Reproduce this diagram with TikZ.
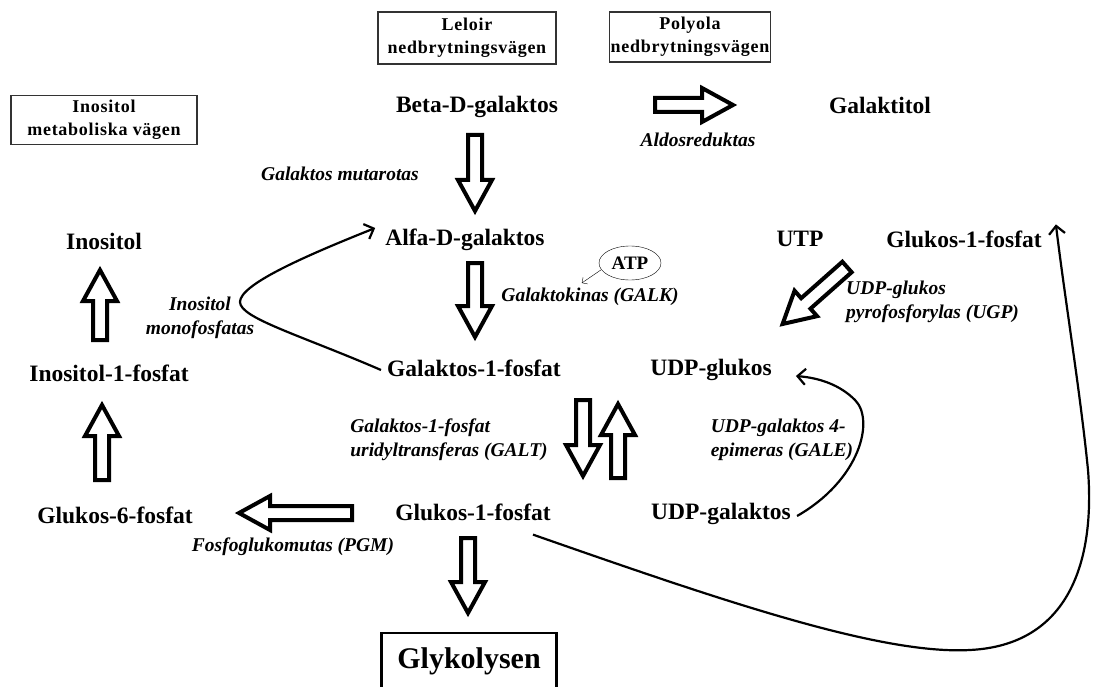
\documentclass[tikz,border=0pt]{standalone}
\usepackage{fontspec}
\setmainfont{Liberation Serif}
\usetikzlibrary{arrows.meta,shapes.geometric}
\tikzset{
  met/.style={font=\bfseries\fontsize{23.5}{26}\selectfont, inner sep=2pt},
  enz/.style={font=\bfseries\itshape\fontsize{19.5}{24}\selectfont, align=center, inner sep=1pt},
  pathbox/.style={draw, line width=1.3pt, draw=black!80, align=center, inner sep=1pt,
    font=\bfseries\fontsize{18}{23}\selectfont\addfontfeature{LetterSpace=4}},
  fatline/.style={line width=4pt, line join=miter, fill=white},
  pics/fat/.style={code={
    \draw[fatline] (0,-7) -- ({#1-35},-7) -- ({#1-35},-17) -- ({#1-4},0)
      -- ({#1-35},17) -- ({#1-35},7) -- (0,7) -- cycle;}},
  curve/.style={line width=2.2pt, -{Straight Barb[length=8pt,width=16pt]}},
}
\begin{document}
\begin{tikzpicture}[x=1pt,y=-1pt]
\useasboundingbox (0,0) rectangle (1094,687);

% boxes for the three pathways
\node[pathbox, minimum width=186, minimum height=49] (boxino) at (104,120) {Inositol\\metaboliska vägen};
\node[pathbox, minimum width=178, minimum height=52] (boxlel) at (467,38) {Leloir\\nedbrytningsvägen};
\node[pathbox, minimum width=160, minimum height=50] (boxpol) at (690,37) {Polyola\\nedbrytningsvägen};

% metabolites
\node[met] (beta) at (477,107) {Beta-D-galaktos};
\node[met] (galtitol) at (880,105) {Galaktitol};
\node[met] (alfa) at (465,240) {Alfa-D-galaktos};
\node[met] (gal1p) at (474,368) {Galaktos-1-fosfat};
\node[met] (ino) at (104,241) {Inositol};
\node[met] (ino1p) at (109,373) {Inositol-1-fosfat};
\node[met] (glc6p) at (115,515) {Glukos-6-fosfat};
\node[met] (utp) at (800,239) {UTP};
\node[met] (glc1ptop) at (964,239) {Glukos-1-fosfat};
\node[met] (udpglc) at (711,370) {UDP-glukos};
\node[met] (glc1p) at (473,512) {Glukos-1-fosfat};
\node[met] (udpgal) at (721,514) {UDP-galaktos};
\node[draw, line width=2.6pt, font=\bfseries\fontsize{30}{32}\selectfont,
  minimum width=175, minimum height=56] (glyk) at (469,661) {Glykolysen};
\node[draw, thin, ellipse, font=\bfseries\fontsize{19}{20}\selectfont,
  minimum width=62, minimum height=34, inner sep=0pt] (atp) at (630,263) {ATP};

% enzymes
\node[enz] (mut) at (340,174) {Galaktos mutarotas};
\node[enz] (aldo) at (698,140) {Aldosreduktas};
\node[enz] (galk) at (590,297) {Galaktokinas (GALK)};
\node[enz] (imp) at (200,318) {Inositol\\monofosfatas};
\node[enz, align=left, anchor=west] (ugp) at (845,302) {UDP-glukos\\pyrofosforylas (UGP)};
\node[enz, align=left] (galt) at (449,440) {Galaktos-1-fosfat\\uridyltransferas (GALT)};
\node[enz, align=left] (gale) at (782,440) {UDP-galaktos 4-\\epimeras (GALE)};
\node[enz] (pgm) at (293,547) {Fosfoglukomutas (PGM)};

% block arrows
\pic[rotate=-90] at (475,135) {fat=80};
\pic at (655,105) {fat=82};
\pic[rotate=-90] at (475,263) {fat=78};
\pic[rotate=90] at (100,340) {fat=74};
\pic[rotate=90] at (102,480) {fat=79};
\pic[rotate=-138.5] at (847,267) {fat=90};
\pic[rotate=-90] at (583,400) {fat=80};
\pic[rotate=90] at (618,478) {fat=78};
\pic[rotate=180] at (352,513) {fat=117};
\pic[rotate=-90] at (468,538) {fat=79};

% thin and curved connectors
\draw[thin, -{Straight Barb[length=4pt,width=8pt]}] (atp.west) ++(2,7) -- ++(-19,13);
\draw[curve] ([xshift=-4pt,yshift=-2pt]gal1p.west) .. controls (300,335) and (240,318) .. (240,302)
  .. controls (240,285) and (300,258) .. ([xshift=-8pt,yshift=12pt]alfa.west);
\draw[curve] ([xshift=4pt,yshift=-2pt]udpgal.east) .. controls (860,480) and (875,420) .. (855,400)
  .. controls (840,385) and (820,378) .. ([xshift=22pt,yshift=-6pt]udpglc.east);
\draw[curve] ([xshift=60pt,yshift=-12pt]glc1p.south) .. controls (720,600) and (880,655) .. (970,650)
  .. controls (1070,645) and (1095,560) .. (1088,470)
  .. controls (1080,390) and (1065,300) .. ([xshift=12pt,yshift=4pt]glc1ptop.north east);
\end{tikzpicture}
\end{document}
